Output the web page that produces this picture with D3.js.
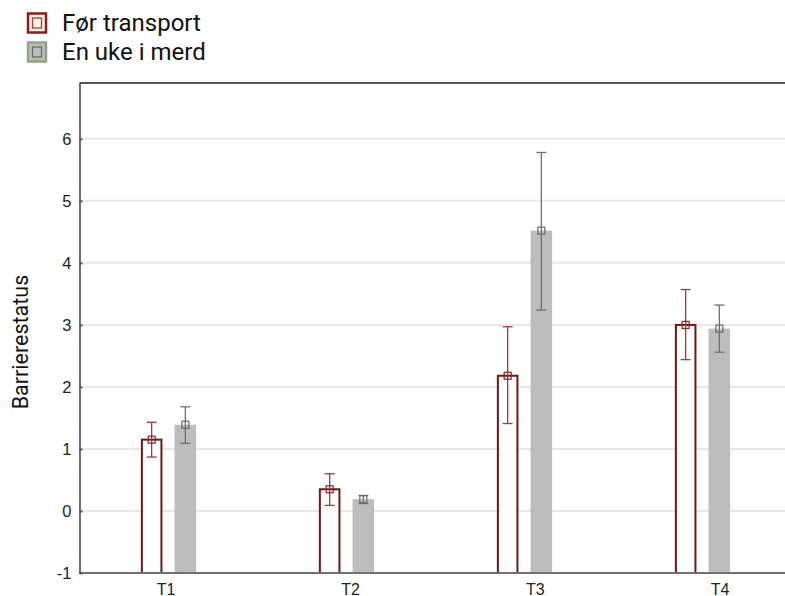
<!DOCTYPE html>
<html><head><meta charset="utf-8">
<script src="https://cdn.jsdelivr.net/npm/d3@7"></script>
<style>body{margin:0;background:#fff}svg{display:block}</style>
</head><body>
<svg id="c" width="785" height="596"></svg>
<script>
const categories = ["T1","T2","T3","T4"];
const seriesNames = ["Før transport","En uke i merd"];
const meanFor = [1.15, 0.35, 2.18, 3.00];
const lowFor  = [0.87, 0.09, 1.41, 2.44];
const highFor = [1.43, 0.60, 2.97, 3.57];
const meanUke = [1.39, 0.19, 4.52, 2.94];
const lowUke  = [1.09, 0.12, 3.24, 2.56];
const highUke = [1.68, 0.25, 5.78, 3.32];
const yTicks = [-1,0,1,2,3,4,5,6];
const yDomain = [-1, 6.9];
const yTitle = "Barrierestatus";

(function(){
const svg = d3.select("#c");
const mL = 79.5, mR = 791.5, mT = 83, mB = 573;
const y = d3.scaleLinear().domain(yDomain).range([mB, mT]);
const x = d3.scaleBand().domain(categories).range([mL, mR]).paddingInner(0).paddingOuter(0);
const xLabel = d3.scalePoint().domain(categories).range([166, 720]);
const sub = d3.scaleBand().domain([0,1]).range([-31, 31]).paddingInner(0.36).paddingOuter(0.1);

const styles = [
  {bar:"#fff", stroke:"#721515", err:"#a2383c", marker:"#8c2226"},
  {bar:"#bcbdbc", stroke:"none", err:"#707070", marker:"#6a6a6a"}
];
const series = [
  categories.map((c,i)=>({c, m:meanFor[i], lo:lowFor[i], hi:highFor[i]})),
  categories.map((c,i)=>({c, m:meanUke[i], lo:lowUke[i], hi:highUke[i]}))
];

svg.append("g").selectAll("line").data(yTicks.filter(t=>t>-1)).join("line")
  .attr("x1", mL).attr("x2", 785).attr("y1", d=>y(d)).attr("y2", d=>y(d))
  .attr("stroke", "#e8e8e8").attr("stroke-width", 2);

series.forEach((s, si) => {
  const st = styles[si];
  const g = svg.append("g");
  const bw = sub.bandwidth();
  g.selectAll("rect").data(s).join("rect")
    .attr("x", d => x(d.c) + x.bandwidth()/2 + sub(si) + (si===0?1:0))
    .attr("y", d => y(d.m))
    .attr("width", bw - (si===0?2:0))
    .attr("height", d => y(yDomain[0]) - y(d.m))
    .attr("fill", st.bar)
    .attr("stroke", st.stroke).attr("stroke-width", si===0?2:0);
});

svg.append("line").attr("x1", mL).attr("x2", 785).attr("y1", mB).attr("y2", mB)
  .attr("stroke", "#707070").attr("stroke-width", 2);
svg.append("line").attr("x1", mL).attr("x2", 785).attr("y1", mT).attr("y2", mT)
  .attr("stroke", "#555").attr("stroke-width", 2);

series.forEach((s, si) => {
  const st = styles[si];
  const g = svg.append("g");
  const cx = d => x(d.c) + x.bandwidth()/2 + sub(si) + sub.bandwidth()/2;
  g.selectAll(".v").data(s).join("line")
    .attr("x1", cx).attr("x2", cx).attr("y1", d=>y(d.lo)).attr("y2", d=>y(d.hi))
    .attr("stroke", st.err).attr("stroke-width", 1.3);
  ["lo","hi"].forEach(k => {
    g.append("g").selectAll("line").data(s).join("line")
      .attr("x1", d=>cx(d)-5).attr("x2", d=>cx(d)+5).attr("y1", d=>y(d[k])).attr("y2", d=>y(d[k]))
      .attr("stroke", st.err).attr("stroke-width", 1.3);
  });
  g.append("g").selectAll("rect").data(s).join("rect")
    .attr("x", d=>cx(d)-3.5).attr("y", d=>y(d.m)-3.5).attr("width", 7).attr("height", 7)
    .attr("fill", "none").attr("stroke", st.marker).attr("stroke-width", 1.2);
});

const yAxis = d3.axisLeft(y).tickValues(yTicks).tickSizeInner(-3).tickSizeOuter(0).tickPadding(8)
  .tickFormat(d => String(d));
const ya = svg.append("g").attr("transform", `translate(${mL},0)`).call(yAxis);
ya.select(".domain").attr("stroke", "#222").attr("stroke-width", 1.3);
ya.selectAll(".tick line").attr("stroke", "#555").attr("stroke-width", 2);
ya.selectAll("text").attr("font-family", "Liberation Sans, Arial, sans-serif").attr("font-size", 16.5).attr("fill", "#222");

svg.append("g").selectAll("text").data(categories).join("text")
  .attr("x", d=>xLabel(d)).attr("y", 594.5)
  .attr("text-anchor", "middle")
  .attr("font-family", "Liberation Sans, Arial, sans-serif").attr("font-size", 16).attr("fill", "#222")
  .text(d=>d);

svg.append("text").attr("transform", "translate(28,342) rotate(-90)")
  .attr("text-anchor", "middle").attr("font-family", "Roboto, sans-serif").attr("font-size", 21.5)
  .attr("fill", "#111").text(yTitle);

const leg = svg.append("g");
seriesNames.forEach((n, i) => {
  const cy = i===0 ? 23 : 52;
  const g = leg.append("g");
  if (i===0) {
    g.append("rect").attr("x", 28).attr("y", cy-9.5).attr("width", 18).attr("height", 19)
      .attr("fill", "#fdf4e8").attr("stroke", "#8b1a1a").attr("stroke-width", 2.5);
    g.append("rect").attr("x", 32.5).attr("y", cy-5).attr("width", 9).attr("height", 10)
      .attr("fill", "none").attr("stroke", "#a33a3a").attr("stroke-width", 1.3);
  } else {
    g.append("rect").attr("x", 28).attr("y", cy-9.5).attr("width", 18).attr("height", 19)
      .attr("fill", "#bcbdbc").attr("stroke", "#93a382").attr("stroke-width", 2.5);
    g.append("rect").attr("x", 32.5).attr("y", cy-5).attr("width", 9).attr("height", 10)
      .attr("fill", "none").attr("stroke", "#6a6a6a").attr("stroke-width", 1.3);
  }
  g.append("text").attr("x", 62).attr("y", cy+8).attr("font-family", "Roboto, sans-serif")
    .attr("font-size", 24).attr("fill", "#111").text(n);
});
})();
</script>
</body></html>
